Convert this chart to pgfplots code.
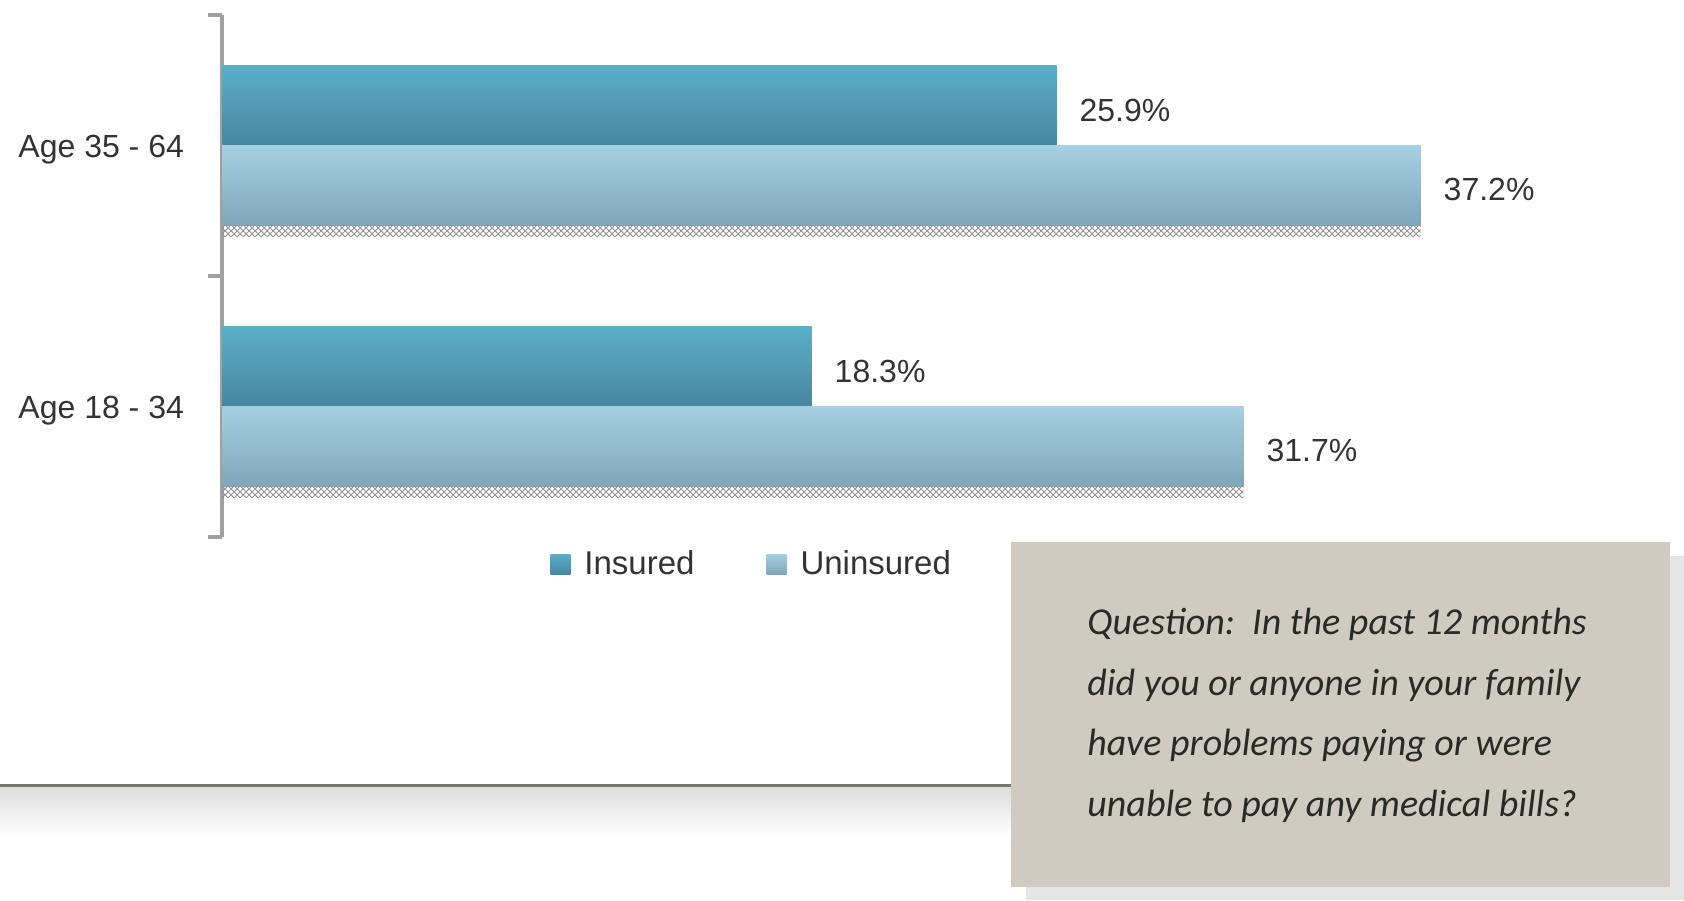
\documentclass[border=0pt]{standalone}
\usepackage{pgfplots}
\pgfplotsset{compat=1.18}
\usetikzlibrary{patterns}
\usepackage{fontspec}
\setmainfont{Liberation Sans}
\newfontfamily\qfont{Carlito}
\definecolor{insTop}{HTML}{5BAEC9}
\definecolor{insBot}{HTML}{4886A0}
\definecolor{unTop}{HTML}{A5D0E2}
\definecolor{unBot}{HTML}{7FA6B8}
\definecolor{axgray}{HTML}{A0A0A0}
\definecolor{boxfill}{HTML}{CFCBC1}
\definecolor{qtext}{HTML}{2A2A24}
\definecolor{labtext}{HTML}{333333}
\definecolor{sepline}{HTML}{76766E}
\begin{document}
\begin{tikzpicture}
\useasboundingbox (0,0) rectangle (842pt,-450pt);
\fill[white] (0,0) rectangle (842pt,-450pt);
% separator line with soft shadow
\shade[top color=black!13, bottom color=white] (0,-393.5pt) rectangle (842pt,-418pt);
\draw[sepline, line width=1.5pt] (0,-392.5pt) -- (842pt,-392.5pt);
\begin{axis}[
  at={(111pt,-268.5pt)}, anchor=south west,
  scale only axis, width=725pt, height=261pt,
  xmin=0, xmax=45, ymin=-0.5, ymax=1.5,
  clip=false,
  axis x line=none,
  axis y line*=left,
  axis line style={-, axgray, line width=2pt},
  ytick={0,1},
  yticklabels={Age 18 - 34, Age 35 - 64},
  major tick length=0pt,
  extra y ticks={-0.5,0.5,1.5},
  extra y tick labels={,,},
  extra tick style={major tick length=7pt, tick align=outside, tick style={axgray, line width=2pt}},
  yticklabel style={font=\fontsize{16}{19}\selectfont, text=labtext, xshift=-15.5pt, yshift=-2pt},
  legend style={at={(0.366,-0.052)}, anchor=center, legend columns=2, draw=none, fill=none,
    font=\fontsize{16.5}{19}\selectfont, text=labtext,
    /tikz/every even column/.append style={column sep=34pt}},
  ins/.style={xbar, bar width=0.308, bar shift=0.154, draw=none, top color=insTop, bottom color=insBot,
    nodes near coords, point meta=explicit symbolic,
    every node near coord/.append style={anchor=west, font=\fontsize{16}{19}\selectfont, text=labtext, xshift=8pt, yshift=17.5pt}},
  unins/.style={xbar, bar width=0.308, bar shift=-0.154, draw=none, top color=unTop, bottom color=unBot,
    nodes near coords, point meta=explicit symbolic,
    every node near coord/.append style={anchor=west, font=\fontsize{16}{19}\selectfont, text=labtext, xshift=8pt, yshift=-22pt}},
  shadowstrip/.style={xbar, bar width=0.042, bar shift=-0.329, draw=none, pattern=crosshatch, pattern color=gray!85, forget plot},
]
% Insured
\addplot[ins,
  legend image code/.code={\shade[top color=insTop,bottom color=insBot] (0pt,-5pt) rectangle (10pt,5pt); \path (0pt,0pt) -- (15pt,0pt);}]
  coordinates {(25.9,1) [25.9\%]};
\addlegendentry{Insured}
\addplot[ins, forget plot] coordinates {(18.3,0) [18.3\%]};
% Uninsured
\addplot[unins,
  legend image code/.code={\shade[top color=unTop,bottom color=unBot] (0pt,-5pt) rectangle (10pt,5pt); \path (0pt,0pt) -- (15pt,0pt);}]
  coordinates {(37.2,1) [37.2\%]};
\addlegendentry{Uninsured}
\addplot[unins, forget plot] coordinates {(31.7,0) [31.7\%]};
% dotted shadow under the bars
\addplot[shadowstrip] coordinates {(37.2,1)};
\addplot[shadowstrip] coordinates {(31.7,0)};
\end{axis}
% question box
\fill[black!10] (513pt,-278pt) rectangle (842pt,-450pt);
\fill[boxfill] (505.5pt,-271pt) rectangle (835pt,-443.5pt);
\begin{scope}[every node/.style={anchor=base west, inner sep=0pt, text=qtext, font=\qfont\itshape\fontsize{19}{22}\selectfont}]
\node at (543.5pt,-317pt) {Question:\ \ In the past 12 months};
\node at (543.5pt,-347.5pt) {did you or anyone in your family};
\node at (543.5pt,-377.5pt) {have problems paying or were};
\node at (543.5pt,-408pt) {unable to pay any medical bills?};
\end{scope}
\end{tikzpicture}
\end{document}
